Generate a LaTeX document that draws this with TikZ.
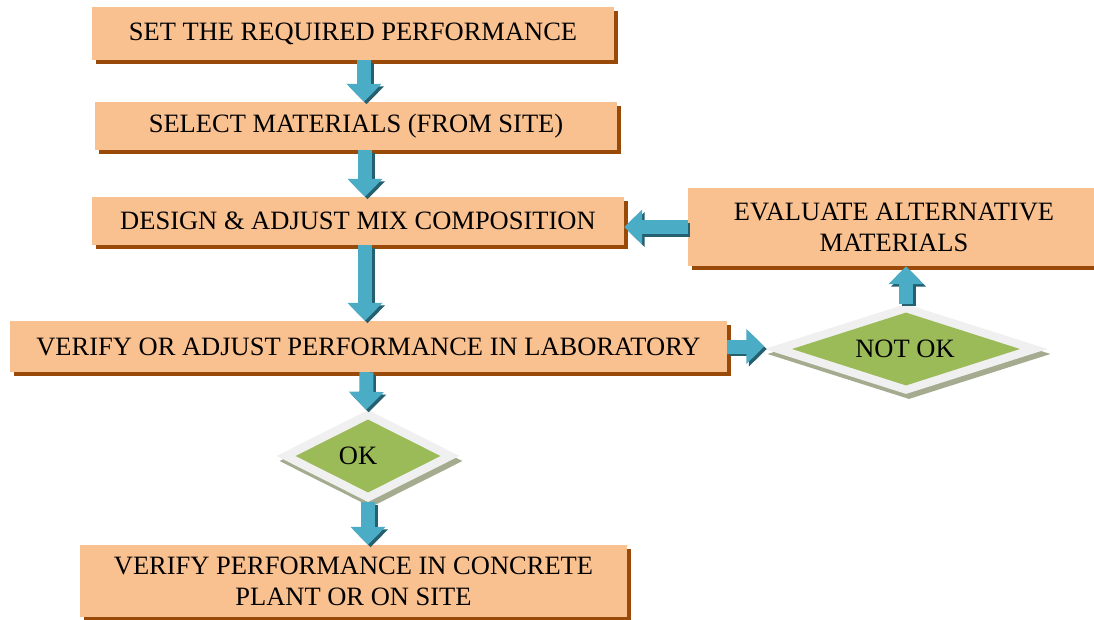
\documentclass[tikz,border=0pt]{standalone}
\usepackage{fontspec}
\setmainfont{Liberation Serif}
\usetikzlibrary{shapes.geometric,shadows,arrows.meta}
\definecolor{peach}{HTML}{F9C090}
\definecolor{brownsh}{HTML}{9A4A08}
\definecolor{arrowc}{HTML}{4BACC6}
\definecolor{arrowsh}{HTML}{24606F}
\definecolor{dgreen}{HTML}{9BBB59}
\definecolor{dgray}{HTML}{F0F0F0}
\definecolor{dshadow}{HTML}{A4AB8E}
\begin{document}
\begin{tikzpicture}[x=1pt,y=-1pt,
  box/.style={fill=peach, inner sep=0pt, align=center,
    font=\fontsize{26.5}{31}\selectfont,
    drop shadow={shadow xshift=4pt, shadow yshift=-4pt, fill=brownsh, opacity=1}},
  dframe/.style={shape=diamond, fill=dgray, inner sep=0pt,
    drop shadow={shadow xshift=3pt, shadow yshift=-5pt, fill=dshadow, opacity=1}},
  dcore/.style={shape=diamond, fill=dgreen, inner sep=0pt},
  dlabel/.style={inner sep=0pt, font=\fontsize{26.5}{31}\selectfont},
  flow/.style={line width=14pt, draw=arrowc, -{Triangle[width=34pt,length=18pt,fill=arrowc]}},
  flowsh/.style={line width=14pt, draw=arrowsh, -{Triangle[width=34pt,length=18pt,fill=arrowsh]},
    transform canvas={xshift=2.5pt,yshift=-2.5pt}}]
\fill[white] (0,0) rectangle (1094,619);
\useasboundingbox (0,0) rectangle (1094,619);

\node[box, minimum width=522pt, minimum height=53pt] (b1) at (353,33.5) {SET THE REQUIRED PERFORMANCE};
\node[box, minimum width=522pt, minimum height=48pt] (b2) at (356,126) {SELECT MATERIALS (FROM SITE)};
\node[box, minimum width=532pt, minimum height=48pt] (b3) at (358,221) {DESIGN \& ADJUST MIX COMPOSITION};
\node[box, minimum width=412pt, minimum height=78pt] (b6) at (894,227) {EVALUATE ALTERNATIVE\\MATERIALS};
\node[box, minimum width=717pt, minimum height=51pt] (b4) at (368.5,346.5) {VERIFY OR ADJUST PERFORMANCE IN LABORATORY};
\node[box, minimum width=547pt, minimum height=72pt] (b5) at (353.5,581) {VERIFY PERFORMANCE IN CONCRETE\\PLANT OR ON SITE};

\node[dframe, minimum width=283pt, minimum height=90pt] (notok) at (906,349) {};
\node[dcore, minimum width=228pt, minimum height=73pt] (notokc) at (notok.center) {};
\node[dlabel] (notoklabel) at ([xshift=-1pt]notok.center) {NOT OK};
\node[dframe, minimum width=183pt, minimum height=92pt] (ok) at (368,456) {};
\node[dcore, minimum width=145pt, minimum height=73pt] (okc) at (ok.center) {};
\node[dlabel] (oklabel) at ([xshift=-10pt]ok.center) {OK};

\newcommand\flowarrow[2]{\draw[flowsh] #1 -- #2; \draw[flow] #1 -- #2;}
\flowarrow{([xshift=11pt]b1.south)}{([xshift=8pt]b2.north)}
\flowarrow{([xshift=9pt]b2.south)}{([xshift=7pt]b3.north)}
\flowarrow{([xshift=7pt]b3.south)}{([xshift=-3.5pt]b4.north)}
\flowarrow{([xshift=-2pt]b4.south)}{([xshift=-2pt]ok.north)}
\flowarrow{(ok.south)}{(b5.north -| ok.south)}
\flowarrow{(b6.west)}{(b3.east |- b6.west)}
\flowarrow{(b4.east)}{(notok.west |- b4.east)}
\flowarrow{(notok.north)}{(b6.south -| notok.north)}
\end{tikzpicture}
\end{document}
